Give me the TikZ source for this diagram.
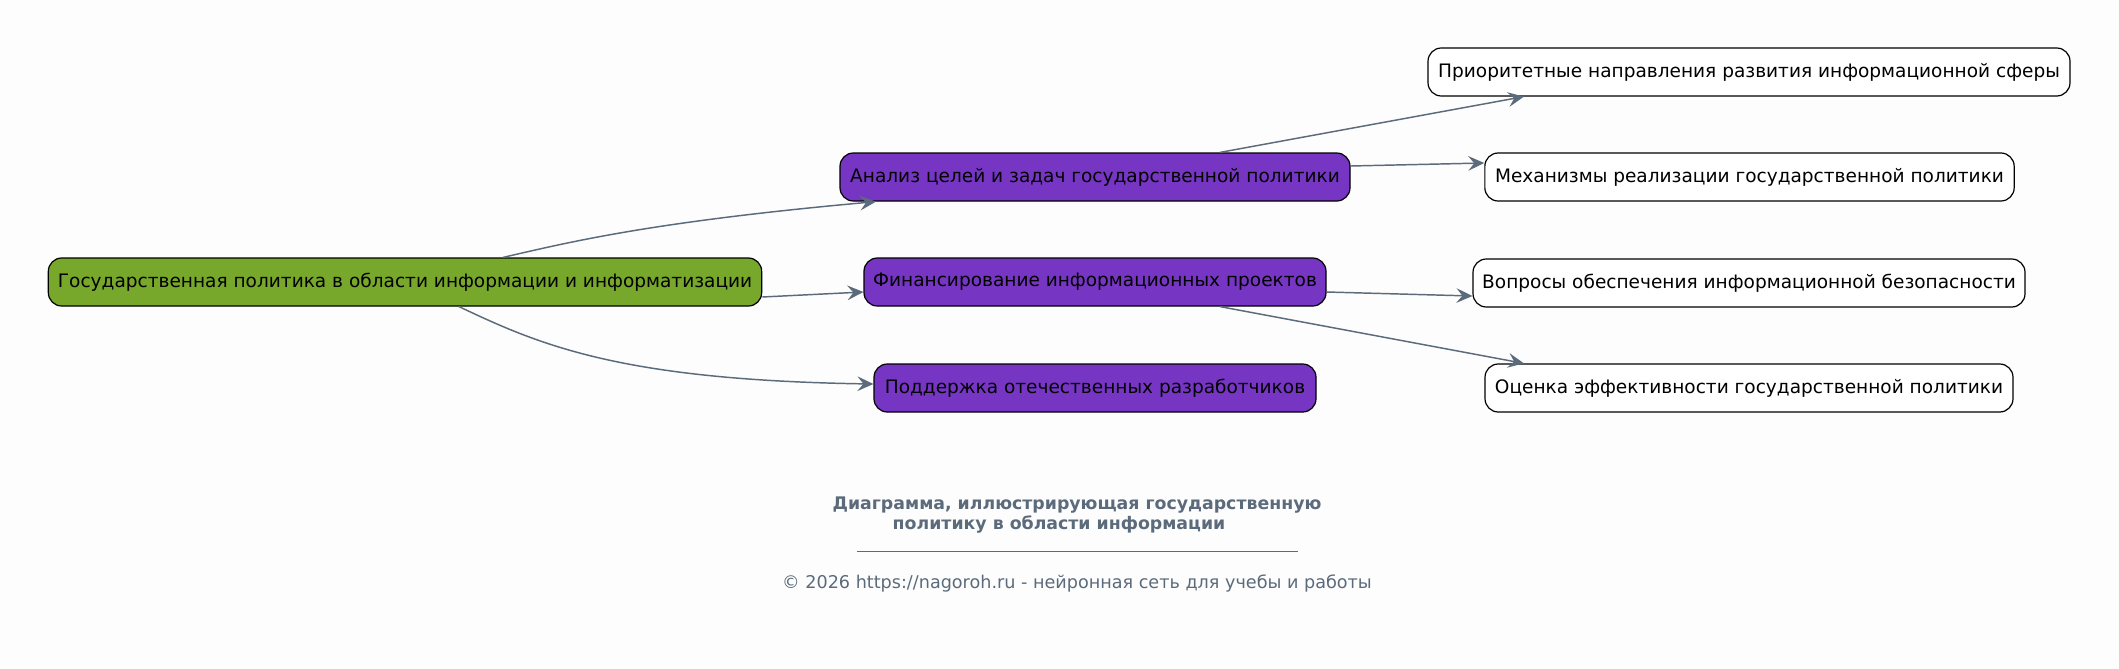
\documentclass[tikz,border=0pt]{standalone}
\usepackage{fontspec}
\setmainfont{DejaVu Sans}
\usepackage{tikz}
\usetikzlibrary{arrows.meta,calc}
\definecolor{bggray}{HTML}{FDFDFD}
\definecolor{rootgreen}{HTML}{77A82B}
\definecolor{subpurple}{HTML}{7636C3}
\definecolor{edgegray}{HTML}{5B6B7B}

\begin{document}
\begin{tikzpicture}[x=0.75pt,y=-0.75pt,
  box/.style={rectangle,rounded corners=10pt,draw=black,line width=0.9pt,minimum height=36pt,inner xsep=3pt,font=\fontsize{13.9}{16}\selectfont},
  link/.style={draw=edgegray,line width=1.1pt,-{Stealth[length=12pt,width=11pt,inset=4.5pt]}}]
\fill[bggray] (0,0) rectangle (2119,668);
\useasboundingbox (0,0) rectangle (2119,668);

\begin{scope}[every node/.style={box}]
\node (0)[fill=rootgreen,minimum width=535pt] at (405,282) {Государственная политика в области информации и информатизации};

\node (1)[fill=subpurple,minimum width=382.5pt] at (1095,177) {Анализ целей и задач государственной политики};
\node (2)[fill=subpurple,minimum width=346.5pt] at (1095,282) {Финансирование информационных проектов};
\node (3)[fill=subpurple,minimum width=331.5pt] at (1095,388) {Поддержка отечественных разработчиков};

\node (4)[fill=white,minimum width=481.5pt] at (1749,72) {Приоритетные направления развития информационной сферы};
\node (5)[fill=white,minimum width=397pt] at (1749.5,177) {Механизмы реализации государственной политики};
\node (6)[fill=white,minimum width=414pt] at (1749,283) {Вопросы обеспечения информационной безопасности};
\node (7)[fill=white,minimum width=396pt] at (1749,388) {Оценка эффективности государственной политики};
\end{scope}

\draw[link] ($(0.north)+(98,0)$) .. controls (570,242) and (650,222) .. ($(1.south)+(-219,0)$);
\draw[link] ($(0.east)+(0,15)$) -- ($(2.west)+(0,10)$);
\draw[link] ($(0.south)+(54,0)$) .. controls (540,345) and (620,380) .. ($(3.west)+(0,-4)$);

\draw[link] ($(1.north)+(125,0)$) -- ($(4.south)+(-225,0)$);
\draw[link] ($(1.east)+(0,-11)$) -- ($(5.west)+(0,-14)$);
\draw[link] ($(2.east)+(0,10)$) -- ($(6.west)+(0,13)$);
\draw[link] ($(2.south)+(125,0)$) -- ($(7.north)+(-225,0)$);

% caption
\node (8)[text=edgegray,font=\bfseries\fontsize{13}{15}\selectfont] at (1077,505) {Диаграмма, иллюстрирующая государственную};
\node (9)[text=edgegray,font=\bfseries\fontsize{13}{15}\selectfont] at (1059,524) {политику в области информации};
\coordinate (10) at (857,551);
\coordinate (11) at (1298,551);
\draw[edgegray,line width=0.6pt] (10) -- (11);
\node (12)[text=edgegray,font=\fontsize{13.2}{15}\selectfont] at (1077,583) {© 2026 https://nagoroh.ru - нейронная сеть для учебы и работы};
\end{tikzpicture}
\end{document}
